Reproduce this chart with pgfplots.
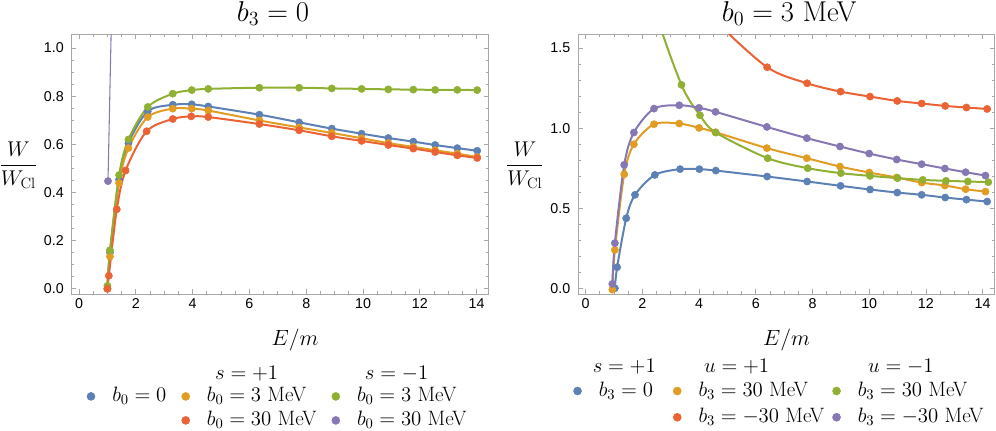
\RequirePackage{fix-cm}
\documentclass[border=0pt]{standalone}
\usepackage{fontspec}
\usepackage{amsmath}
\usepackage{pgfplots}
\usepackage{pgfplotstable}
\pgfplotsset{compat=1.18}
\newfontfamily\arialf{Liberation Sans}

\definecolor{c1}{HTML}{5E81B5}
\definecolor{c2}{HTML}{E19C24}
\definecolor{c3}{HTML}{8FB032}
\definecolor{c4}{HTML}{EB6235}
\definecolor{c5}{HTML}{8778B3}
\definecolor{framegray}{HTML}{A8A8A8}

% left panel: b3 = 0
\pgfplotstableread{
x y
1.00 0.000
1.09 0.151
1.41 0.453
1.74 0.605
2.42 0.737
3.30 0.764
3.97 0.766
4.55 0.757
6.35 0.723
7.75 0.691
8.90 0.665
9.95 0.644
10.89 0.626
11.77 0.611
12.54 0.597
13.32 0.584
14.02 0.573
}\LBlue
\pgfplotstableread{
x y
1.00 0.000
1.09 0.134
1.41 0.439
1.74 0.584
2.42 0.713
3.30 0.748
3.97 0.748
4.55 0.740
6.35 0.699
7.75 0.670
8.90 0.647
9.95 0.625
10.89 0.605
11.77 0.589
12.54 0.575
13.32 0.561
14.02 0.547
}\LOrange
\pgfplotstableread{
x y
1.00 0.012
1.09 0.160
1.41 0.472
1.74 0.620
2.42 0.755
3.30 0.810
3.97 0.825
4.55 0.830
6.35 0.835
7.75 0.835
8.90 0.832
9.95 0.830
10.89 0.828
11.77 0.827
12.54 0.826
13.32 0.826
14.02 0.825
}\LGreen
\pgfplotstableread{
x y
1.00 0.000
1.05 0.054
1.33 0.330
1.64 0.491
2.38 0.654
3.30 0.705
3.95 0.716
4.55 0.713
6.35 0.684
7.75 0.658
8.90 0.633
9.95 0.614
10.89 0.597
11.77 0.582
12.54 0.568
13.32 0.554
14.02 0.543
}\LRed
\pgfplotstableread{
x y
1.02 0.447
1.20 1.450
}\LPurple

% right panel: b0 = 3 MeV
\pgfplotstableread{
x y
1.03 0.004
1.11 0.135
1.43 0.440
1.74 0.586
2.44 0.710
3.33 0.746
4.01 0.746
4.59 0.737
6.40 0.700
7.81 0.669
8.99 0.642
10.03 0.619
10.99 0.600
11.85 0.586
12.68 0.569
13.43 0.556
14.16 0.544
}\RBlue
\pgfplotstableread{
x y
0.94 -0.005
1.03 0.243
1.36 0.714
1.70 0.901
2.41 1.026
3.30 1.030
4.00 1.003
4.58 0.976
6.39 0.877
7.80 0.814
8.97 0.762
10.00 0.725
10.97 0.694
11.85 0.662
12.67 0.644
13.40 0.621
14.10 0.606
}\ROrange
\pgfplotstableread{
x y
2.00 2.250
2.44 1.750
3.38 1.271
4.03 1.082
4.59 0.974
6.42 0.814
7.83 0.752
9.00 0.721
10.03 0.704
11.00 0.690
11.89 0.679
12.71 0.673
13.48 0.669
14.20 0.665
}\RGreen
\pgfplotstableread{
x y
4.01 1.830
4.59 1.670
6.40 1.381
7.81 1.281
8.99 1.229
10.03 1.198
10.99 1.171
11.85 1.155
12.68 1.140
13.43 1.130
14.16 1.121
}\RRed
\pgfplotstableread{
x y
0.94 0.031
1.03 0.285
1.36 0.773
1.70 0.974
2.41 1.123
3.30 1.144
4.00 1.128
4.58 1.103
6.39 1.009
7.80 0.939
8.97 0.887
10.00 0.843
10.97 0.806
11.85 0.777
12.67 0.750
13.40 0.727
14.10 0.706
}\RPurple

\pgfplotsset{
  panel/.style={
    scale only axis, width=312.4pt, height=195pt,
    xtick={0,2,4,6,8,10,12,14}, minor x tick num=3,
    axis line style={framegray, line width=0.7pt},
    tick style={color=framegray, line width=0.6pt},
    major tick length=3.5pt, minor tick length=2pt,
    tick label style={font=\arialf\fontsize{10.7}{12}\selectfont},
    /pgf/number format/assume math mode=true,
    yticklabel style={/pgf/number format/fixed, /pgf/number format/fixed zerofill,
      /pgf/number format/precision=1, xshift=-2.5pt},
    title style={font=\fontsize{21.5}{24}\selectfont, at={(axis description cs:0.5,1)},
      anchor=base, yshift=3.75pt},
    xlabel={$E/m$},
    xlabel style={font=\fontsize{16.5}{18}\selectfont, at={(axis description cs:0.5,0)},
      anchor=base, yshift=-38.25pt},
    ylabel={$\dfrac{W}{W_{\mathrm{Cl}}}$},
    ylabel style={font=\fontsize{16}{18}\selectfont, rotate=-90,
      at={(axis description cs:0,0.496)}, anchor=center, xshift=-40pt},
    legend columns=3, legend cell align=left,
    legend image code/.code={\fill[#1] (0pt,0pt) circle (3pt);},
    legend style={draw=none, fill=none, inner sep=0pt, outer sep=0pt, anchor=west,
      nodes={inner sep=0pt, text height=11.5pt, text depth=4pt},
      font=\fontsize{15.6}{18}\selectfont,
      /tikz/every odd column/.append style={column sep=12.75pt}},
  },
  crv/.style={#1, line width=1.5pt, smooth, forget plot},
  pts/.style={#1, only marks, mark=*, mark size=2.7pt, forget plot},
}

\begin{document}
\begin{tikzpicture}
\begin{axis}[panel, at={(53.8pt,102pt)}, anchor=south west,
  xmin=-0.257, xmax=14.41, ymin=-0.022, ymax=1.058,
  ytick={0,0.2,0.4,0.6,0.8,1}, minor y tick num=3,
  title={$b_3 = 0$}, title style={xshift=-5.25pt},
  xlabel style={xshift=11.25pt},
  legend style={at={(axis description cs:0.036,-0.44)}, row sep=2.5pt,
    /tikz/column 2/.style={column sep=11.25pt},
    /tikz/column 4/.style={column sep=11.25pt}},
]
\addplot[crv=c1] table {\LBlue};
\addplot[pts=c1] table {\LBlue};
\addplot[crv=c2] table {\LOrange};
\addplot[pts=c2] table {\LOrange};
\addplot[crv=c3] table {\LGreen};
\addplot[pts=c3] table {\LGreen};
\addplot[crv=c4] table {\LRed};
\addplot[pts=c4] table {\LRed};
\addplot[c5, line width=0.8pt, forget plot] table {\LPurple};
\addplot[pts=c5, restrict y to domain=-1:1.05] table {\LPurple};
\addlegendimage{color=c1}\addlegendentry{$b_0 = 0$}
\addlegendimage{color=c2}\addlegendentry{$b_0 = 3$ MeV}
\addlegendimage{color=c3}\addlegendentry{$b_0 = 3$ MeV}
\addlegendimage{empty legend}\addlegendentry{}
\addlegendimage{color=c4}\addlegendentry{$b_0 = 30$ MeV}
\addlegendimage{color=c5}\addlegendentry{$b_0 = 30$ MeV}
\end{axis}

\begin{axis}[panel, at={(433.7pt,102pt)}, anchor=south west,
  xmin=-0.261, xmax=14.43, ymin=-0.032, ymax=1.588,
  ytick={0,0.5,1,1.5}, minor y tick num=4,
  title={$b_0 = 3$ MeV}, title style={xshift=2pt},
  legend style={at={(axis description cs:-0.012,-0.4236)}, row sep=4.2pt,
    /tikz/column 2/.style={column sep=15pt},
    /tikz/column 4/.style={column sep=6pt}},
]
\addplot[crv=c1] table {\RBlue};
\addplot[pts=c1] table {\RBlue};
\addplot[crv=c2] table {\ROrange};
\addplot[pts=c2] table {\ROrange};
\addplot[crv=c3] table {\RGreen};
\addplot[pts=c3, restrict y to domain=-1:1.58] table {\RGreen};
\addplot[crv=c4] table {\RRed};
\addplot[pts=c4, restrict y to domain=-1:1.58] table {\RRed};
\addplot[crv=c5] table {\RPurple};
\addplot[pts=c5] table {\RPurple};
\addlegendimage{color=c1}\addlegendentry{$b_3 = 0$}
\addlegendimage{color=c2}\addlegendentry{$b_3 = 30$ MeV}
\addlegendimage{color=c3}\addlegendentry{$b_3 = 30$ MeV}
\addlegendimage{empty legend}\addlegendentry{}
\addlegendimage{color=c4}\addlegendentry{$b_3 = -30$ MeV}
\addlegendimage{color=c5}\addlegendentry{$b_3 = -30$ MeV}
\end{axis}

\begin{scope}[every node/.style={font=\fontsize{15.6}{18}\selectfont, anchor=base, inner sep=0pt}]
\node at (185pt,38pt) {$s=+1$};
\node at (297.5pt,38pt) {$s=-1$};
\node at (468.2pt,43.5pt) {$s=+1$};
\node at (552.5pt,43.5pt) {$u=+1$};
\node at (675.6pt,43.5pt) {$u=-1$};
\end{scope}

\pgfresetboundingbox
\path (0pt,0pt) rectangle (747pt,322.5pt);
\end{tikzpicture}
\end{document}
